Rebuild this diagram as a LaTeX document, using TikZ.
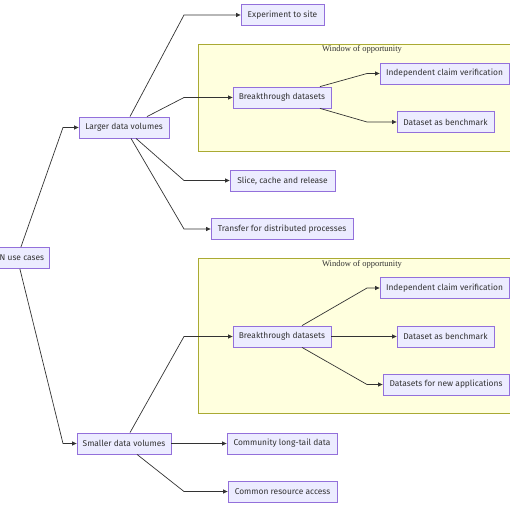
\documentclass[tikz,border=0pt]{standalone}
\usepackage{fontspec}
\setmainfont{Fira Sans}
\newfontfamily\titlefont{Liberation Serif}
\usetikzlibrary{arrows.meta,calc}
\definecolor{nodefill}{HTML}{ECECFF}
\definecolor{nodestroke}{HTML}{9370DB}
\definecolor{clfill}{HTML}{FFFFDE}
\definecolor{clstroke}{HTML}{AAAA33}
\definecolor{ink}{HTML}{333333}
\tikzset{
  box/.style={draw=nodestroke, fill=nodefill, line width=0.8pt, text=ink,
    font=\fontsize{8.4pt}{9pt}\selectfont, minimum height=21pt, inner ysep=0pt, inner xsep=5.5pt},
  cluster/.style={draw=clstroke, fill=clfill, line width=0.8pt},
  cltitle/.style={text=ink, font=\titlefont\fontsize{8.5pt}{9pt}\selectfont, inner sep=0pt},
  conn/.style={draw=ink, line width=0.7pt, -{Triangle[length=4.5pt,width=4pt]}},
}
\begin{document}
\begin{tikzpicture}[x=1pt,y=-1pt]
\useasboundingbox (0,0) rectangle (510,510);
% clusters
\draw[cluster] (198,44) rectangle (528,151);
\node[cltitle] (t1) at (362,49.5) {Window of opportunity};
\draw[cluster] (198,258) rectangle (528,413);
\node[cltitle] (t2) at (362,264) {Window of opportunity};
% nodes
\node[box, anchor=east] (root) at (50,258) {N use cases};
\node[box, minimum width=90pt] (L) at (124,127.5) {Larger data volumes};
\node[box, minimum width=83pt] (E) at (282.5,15) {Experiment to site};
\node[box, minimum width=98pt] (B1) at (282,97.5) {Breakthrough datasets};
\node[box, minimum width=129pt] (I1) at (444.5,73.5) {Independent claim verification};
\node[box, minimum width=97pt] (D1) at (445.5,122) {Dataset as benchmark};
\node[box, minimum width=105pt] (S) at (282.5,180.5) {Slice, cache and release};
\node[box, minimum width=142pt] (T) at (282,229) {Transfer for distributed processes};
\node[box, minimum width=98pt] (B2) at (282,336.5) {Breakthrough datasets};
\node[box, minimum width=129pt] (I2) at (444.5,288) {Independent claim verification};
\node[box, minimum width=97pt] (D2) at (445.5,336.5) {Dataset as benchmark};
\node[box, minimum width=126pt] (N) at (446,384.5) {Datasets for new applications};
\node[box, minimum width=94pt] (Sm) at (124,443.5) {Smaller data volumes};
\node[box, minimum width=110pt] (C) at (282,443.5) {Community long-tail data};
\node[box, minimum width=109pt] (R) at (282.5,491.5) {Common resource access};
% bend columns
\coordinate (c0) at (63,0);
\coordinate (c1) at (184,0);
\coordinate (c2) at (367,0);
% connectors
\draw[conn] ([xshift=-1pt]root.north) -- (c0 |- L.west) -- (L.west);
\draw[conn] ([xshift=-2pt]root.south) -- (c0 |- Sm.west) -- (Sm.west);
\draw[conn] ([xshift=6pt]L.north) -- (c1 |- E.west) -- (E.west);
\draw[conn] ([xshift=23pt]L.north) -- (c1 |- B1.west) -- (B1.west);
\draw[conn] ([xshift=12pt]L.south) -- (c1 |- S.west) -- (S.west);
\draw[conn] ([xshift=7pt]L.south) -- (c1 |- T.west) -- (T.west);
\draw[conn] ([xshift=38pt]B1.north) -- (c2 |- I1.west) -- (I1.west);
\draw[conn] ([xshift=38pt]B1.south) -- (c2 |- D1.west) -- (D1.west);
\draw[conn] ([xshift=6pt]Sm.north) -- (c1 |- B2.west) -- (B2.west);
\draw[conn] (Sm.east) -- (C.west);
\draw[conn] ([xshift=13pt]Sm.south) -- (c1 |- R.west) -- (R.west);
\draw[conn] ([xshift=20pt]B2.north) -- (c2 |- I2.west) -- (I2.west);
\draw[conn] (B2.east) -- (D2.west);
\draw[conn] ([xshift=20pt]B2.south) -- (c2 |- N.west) -- (N.west);
\end{tikzpicture}
\end{document}
